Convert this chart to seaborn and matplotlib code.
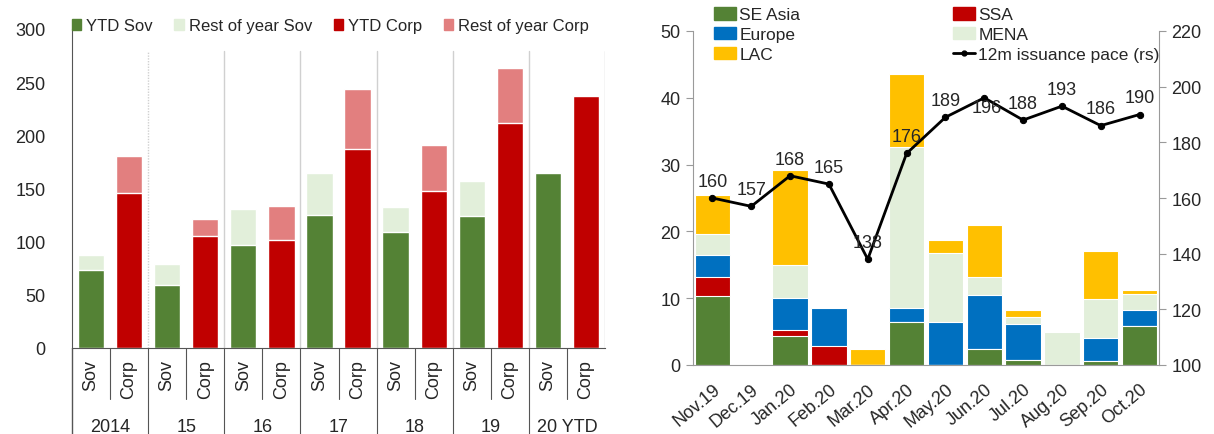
import numpy as np
import pandas as pd
import matplotlib.pyplot as plt
import matplotlib.lines as mlines
import matplotlib.patches as mpatches
import seaborn as sns

sns.set_style("white")
plt.rcParams['font.family'] = ['Liberation Sans Narrow', 'Liberation Sans', 'DejaVu Sans']

# ---- left chart: annual issuance, sovereign vs corporate ----
years = ["2014", "15", "16", "17", "18", "19", "20 YTD"]
sov_ytd = [73, 59, 97, 125.5, 109.5, 124, 165]
sov_total = [87, 79, 131, 165, 133, 157, 165]
corp_ytd = [146, 105.5, 101.5, 187, 148, 212, 237]
corp_total = [180.5, 121.5, 134, 244, 190.5, 263, 237]

# ---- right chart: monthly issuance by region + 12m pace ----
months = ["Nov.19", "Dec.19", "Jan.20", "Feb.20", "Mar.20", "Apr.20",
          "May.20", "Jun.20", "Jul.20", "Aug.20", "Sep.20", "Oct.20"]
se_asia = [10.3, 0, 4.3, 0, 0, 6.5, 0, 2.45, 0.8, 0, 0.55, 5.9]
ssa = [2.9, 0, 1.0, 2.9, 0, 0, 0, 0, 0, 0, 0, 0]
europe = [3.2, 0, 4.7, 5.6, 0, 2.1, 6.4, 8.05, 5.3, 0, 3.45, 2.4]
mena = [3.2, 0, 5.0, 0, 0, 24.0, 10.3, 2.7, 1.1, 5.0, 5.9, 2.3]
lac = [5.8, 0, 14.25, 0, 2.45, 10.9, 2.0, 7.7, 1.0, 0, 7.1, 0.7]
pace = [160, 157, 168, 165, 138, 176, 189, 196, 188, 193, 186, 190]

GREEN, LGREEN = "#548235", "#E2EFDA"
RED, LRED = "#C00000", "#E27F7F"
BLUE, YELLOW = "#0070C0", "#FFC000"
GREY = "#9a9a9a"
FS = 13
LFS = 12

fig = plt.figure(figsize=(12.14, 4.35), dpi=100)

# ================= left =================
ax = fig.add_axes([72 / 1214, 1 - 349 / 435, 533 / 1214, 319 / 435])

keys, tot, ytd, rest_col, ytd_col, sub = [], [], [], [], [], []
for i, y in enumerate(years):
    keys += [y + " Sov", y + " Corp"]
    tot += [sov_total[i], corp_total[i]]
    ytd += [sov_ytd[i], corp_ytd[i]]
    rest_col += [LGREEN, LRED]
    ytd_col += [GREEN, RED]
    sub += ["Sov", "Corp"]
left = pd.DataFrame({"key": keys, "total": tot, "ytd": ytd})

sns.barplot(data=left, x="key", y="total", hue="key", palette=rest_col,
            legend=False, width=0.69, ax=ax, saturation=1)
sns.barplot(data=left, x="key", y="ytd", hue="key", palette=ytd_col,
            legend=False, width=0.69, ax=ax, saturation=1)

ax.set_xlim(-0.5, len(keys) - 0.5)
ax.set_ylim(0, 300)
ax.set_yticks(range(0, 301, 50))
ax.set_xlabel("")
ax.set_ylabel("")
ax.set_xticks(range(len(keys)))
ax.set_xticklabels(sub, rotation=90, fontsize=FS)
ax.tick_params(axis="x", length=0, pad=8)
ax.tick_params(axis="y", length=5, width=1, color="#555555", labelsize=FS,
               direction="out", pad=14)
for s in ["top", "right"]:
    ax.spines[s].set_visible(False)
ax.spines["bottom"].set_color("#555555")
ax.spines["left"].set_color("#555555")
ax.spines["left"].set_bounds(0, 300)

tr = ax.get_xaxis_transform()
# left spine continues down through the labels
ax.plot([-0.5, -0.5], [0, -0.27], transform=tr, color="#555555", lw=1, clip_on=False)
for i in range(len(years)):
    b = 2 * i + 1.5
    ax.plot([b - 1, b - 1], [0, -0.16], transform=tr, color="#555555", lw=0.8, clip_on=False)
    if i < len(years) - 1:
        ax.plot([b, b], [0, -0.27], transform=tr, color="#555555", lw=0.8, clip_on=False)
        ax.plot([b, b], [0, 0.93], transform=tr, color="#d0d0d0", lw=1,
                ls=(0, (1, 1)) if i == 0 else "-", zorder=0)
    else:
        ax.plot([b, b], [0, 0.93], transform=tr, color="#d0d0d0", lw=1, zorder=0)
    ax.text(2 * i + 0.5, -0.245, years[i], transform=tr, ha="center", va="center",
            fontsize=FS)

lh = [mpatches.Patch(color=GREEN, label="YTD Sov"),
      mpatches.Patch(color=LGREEN, label="Rest of year Sov"),
      mpatches.Patch(color=RED, label="YTD Corp"),
      mpatches.Patch(color=LRED, label="Rest of year Corp")]
ax.legend(handles=lh, loc="center left", bbox_to_anchor=(0.0, 1.01), ncol=4,
          frameon=False, fontsize=LFS, handlelength=0.55, handleheight=0.7,
          handletextpad=0.3, columnspacing=1.3, borderaxespad=0, borderpad=0)

# ================= right =================
ax1 = fig.add_axes([693 / 1214, 1 - 366 / 435, 466 / 1214, 334 / 435])
right = pd.DataFrame({"month": months, "SE Asia": se_asia, "SSA": ssa,
                      "Europe": europe, "MENA": mena, "LAC": lac})
layers = ["SE Asia", "SSA", "Europe", "MENA", "LAC"]
cols = [GREEN, RED, BLUE, LGREEN, YELLOW]
cum = right[layers].cumsum(axis=1)
for name, c in list(zip(layers, cols))[::-1]:
    sns.barplot(x=right["month"], y=cum[name], color=c, width=0.91, ax=ax1,
                saturation=1, edgecolor="white", linewidth=0.8)

ax1.set_xlim(-0.5, len(months) - 0.5)
ax1.set_ylim(0, 50)
ax1.set_yticks(range(0, 51, 10))
ax1.set_xlabel("")
ax1.set_ylabel("")
ax1.set_xticks(range(len(months)))
ax1.set_xticklabels(months, rotation=40, ha="right", rotation_mode="anchor",
                    fontsize=FS)
ax1.set_xticks(np.arange(-0.5, len(months), 1), minor=True)
ax1.tick_params(axis="x", which="major", length=0, pad=11)
ax1.tick_params(axis="x", which="minor", length=5, color=GREY, direction="out")
ax1.tick_params(axis="y", length=5, color=GREY, labelsize=FS, direction="out", pad=4)
for s in ["top", "right"]:
    ax1.spines[s].set_visible(False)
ax1.spines["left"].set_color(GREY)
ax1.spines["bottom"].set_color(GREY)

ax2 = ax1.twinx()
x = np.arange(len(months))
sns.lineplot(x=x, y=pace, ax=ax2, color="black", lw=2, marker="o",
             markersize=4.5, markeredgecolor="black")
ax2.set_ylim(100, 220)
ax2.set_yticks(range(100, 221, 20))
ax2.tick_params(axis="y", length=5, color=GREY, labelsize=FS, direction="out", pad=4)
for s in ["top", "left", "bottom"]:
    ax2.spines[s].set_visible(False)
ax2.spines["right"].set_color(GREY)

label_off = {"Jun.20": -7}
for xi, (m, v) in enumerate(zip(months, pace)):
    dy = label_off.get(m, 12)
    ax2.annotate(str(v), (xi, v), xytext=(2 if dy < 0 else 0, dy),
                 textcoords="offset points", ha="center", va="center", fontsize=FS)

rh = [mpatches.Patch(color=GREEN, label="SE Asia"),
      mpatches.Patch(color=BLUE, label="Europe"),
      mpatches.Patch(color=YELLOW, label="LAC"),
      mpatches.Patch(color=RED, label="SSA"),
      mpatches.Patch(color=LGREEN, label="MENA"),
      mlines.Line2D([], [], color="black", lw=2, marker="o", markersize=3.5,
                    label="12m issuance pace (rs)")]
fig.legend(handles=rh, loc="upper left", bbox_to_anchor=(714 / 1214, 1 - 8 / 435),
           ncol=2, frameon=False, fontsize=LFS + 0.5, handlelength=1.25, handleheight=0.75,
           handletextpad=0.2, columnspacing=8.8, labelspacing=0.25,
           borderaxespad=0, borderpad=0)

fig.savefig("out.png", dpi=100)
